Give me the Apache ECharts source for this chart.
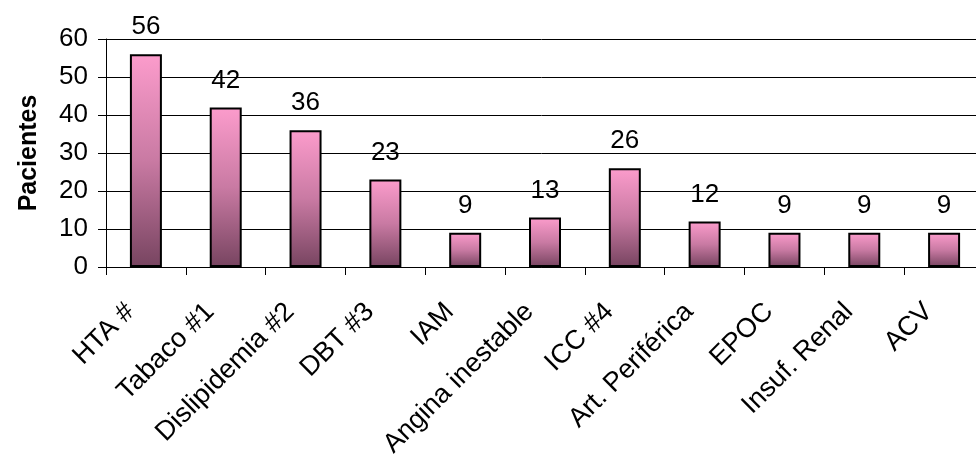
<!DOCTYPE html>
<html>
<head>
<meta charset="utf-8">
<script src="https://cdn.jsdelivr.net/npm/echarts@6/dist/echarts.min.js"></script>
<style>
  html, body { margin: 0; padding: 0; background: #fff; }
  #chart { width: 976px; height: 456px; }
</style>
</head>
<body>
<div id="chart"></div>
<script>
const categorias = ['HTA #', 'Tabaco #1', 'Dislipidemia #2', 'DBT #3', 'IAM', 'Angina inestable', 'ICC #4', 'Art. Periférica', 'EPOC', 'Insuf. Renal', 'ACV'];
const pacientes = [56, 42, 36, 23, 9, 13, 26, 12, 9, 9, 9];

const chart = echarts.init(document.getElementById('chart'));
chart.setOption({
  animation: false,
  textStyle: { fontFamily: 'Liberation Sans, Arial, sans-serif' },
  grid: { left: 106, width: 878, top: 39, height: 228, outerBoundsMode: 'none' },
  xAxis: {
    type: 'category',
    data: categorias,
    axisLine: { lineStyle: { color: '#000', width: 1 } },
    axisTick: { show: true, length: 8, lineStyle: { color: '#000' } },
    axisLabel: { rotate: 45, color: '#000', fontSize: 27, margin: 25, padding: [0, 22, 0, 0], interval: 0 }
  },
  yAxis: {
    type: 'value',
    min: 0, max: 60, interval: 10,
    name: 'Pacientes',
    nameLocation: 'middle',
    nameGap: 64,
    nameTextStyle: { fontSize: 25, fontWeight: 'bold', color: '#000' },
    axisLine: { show: true, lineStyle: { color: '#000' } },
    axisTick: { show: true, length: 8, lineStyle: { color: '#000' } },
    axisLabel: { color: '#000', fontSize: 26, margin: 18 },
    splitLine: { lineStyle: { color: '#000', width: 1 } }
  },
  series: [{
    type: 'bar',
    data: pacientes,
    barWidth: 32,
    itemStyle: {
      borderColor: '#000',
      borderWidth: 2,
      color: new echarts.graphic.LinearGradient(0, 0, 0, 1, [
        { offset: 0, color: '#fc9ccc' },
        { offset: 0.5, color: '#c97aa3' },
        { offset: 1, color: '#774460' }
      ])
    },
    label: { show: true, position: 'top', distance: 14, color: '#000', fontSize: 26 }
  }]
});
</script>
</body>
</html>
